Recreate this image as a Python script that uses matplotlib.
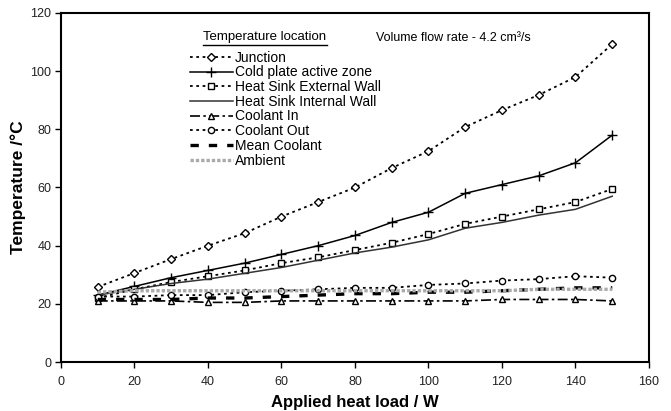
import matplotlib.pyplot as plt
import numpy as np

plt.rcParams['font.family'] = ['Liberation Sans', 'DejaVu Sans']

# dados
heat_load = [10, 20, 30, 40, 50, 60, 70, 80, 90, 100, 110, 120, 130, 140, 150]
junction = [25.8, 30.6, 35.4, 40, 44.3, 50, 55, 60, 66.7, 72.5, 80.8, 86.6, 91.8, 98, 109.3]
cold_plate = [23, 26, 29, 31.5, 34, 37, 40, 43.5, 48, 51.5, 58, 61, 64, 68.5, 78]
hs_external = [22, 25, 27.5, 29.5, 31.5, 34, 36, 38.5, 41, 44, 47.5, 50, 52.5, 55, 59.5]
hs_internal = [23, 25, 27, 28.5, 30.5, 32.5, 35, 37.5, 39.5, 42, 46, 48, 50.5, 52.5, 57]
coolant_in = [21, 21, 21, 20.5, 20.5, 21, 21, 21, 21, 21, 21, 21.5, 21.5, 21.5, 21]
coolant_out = [22.5, 22.5, 23, 23, 24, 24.5, 25, 25.5, 25.5, 26.5, 27, 28, 28.5, 29.5, 29]
mean_coolant = [21.5, 21.5, 21.5, 22, 22, 22.5, 23, 23.5, 23.5, 24, 24, 24.5, 25, 25.5, 25.5]
ambient = [24, 24.5, 24.5, 24.5, 24.5, 24.5, 24.5, 24.5, 24.5, 24.5, 24.5, 24.5, 25, 25, 25]

fig = plt.figure(figsize=(6.71, 4.11), dpi=100)
ax = fig.add_axes([0.0909, 0.1192, 0.8763, 0.8492])

mk = dict(markersize=4.5, markerfacecolor='white', markeredgecolor='black', markeredgewidth=1)

ax.plot(heat_load, junction, color='black', linestyle=(0, (1.5, 2)), lw=1.3, marker='D', label='Junction', **dict(mk, markersize=3.6))
ax.plot(heat_load, cold_plate, color='black', linestyle='-', lw=1.1, marker='+', markersize=7, markeredgewidth=1, label='Cold plate active zone')
ax.plot(heat_load, hs_external, color='black', linestyle=(0, (1.5, 2)), lw=1.3, marker='s', label='Heat Sink External Wall', **mk)
ax.plot(heat_load, hs_internal, color='#333333', linestyle='-', lw=1.1, label='Heat Sink Internal Wall')
ax.plot(heat_load, coolant_in, color='black', linestyle=(0, (6, 2, 1.5, 2)), lw=1.2, marker='^', label='Coolant In', **mk)
ax.plot(heat_load, coolant_out, color='black', linestyle=(0, (1.5, 2)), lw=1.3, marker='o', label='Coolant Out', **mk)
ax.plot(heat_load, mean_coolant, color='black', linestyle=(0, (2.5, 3)), lw=2.4, label='Mean Coolant')
ax.plot(heat_load, ambient, color='#aaaaaa', linestyle=(0, (1, 0.6)), lw=2.4, label='Ambient')

ax.set_xlim(0, 160)
ax.set_ylim(0, 120)
ax.set_xticks(np.arange(0, 161, 20))
ax.set_yticks(np.arange(0, 121, 20))
ax.tick_params(direction='out', length=4, width=1, labelsize=9, colors='black', labelcolor='#222222')
ax.tick_params(axis='x', pad=6)
ax.tick_params(axis='y', pad=3)
for s in ax.spines.values():
    s.set_linewidth(1.5)

ax.set_xlabel('Applied heat load / W', fontsize=12, fontweight='bold', labelpad=5)
ax.set_ylabel('Temperature /°C', fontsize=12.5, fontweight='bold', labelpad=3)

# título da legenda sublinhado
ax.text(0.241, 0.931, 'Temperature location', transform=ax.transAxes, fontsize=9.5, ha='left', va='center')
ax.plot([0.241, 0.452], [0.909, 0.909], transform=ax.transAxes, color='black', lw=1)
ax.text(0.536, 0.928, 'Volume flow rate - 4.2 cm³/s', transform=ax.transAxes, fontsize=9, ha='left', va='center')

ax.legend(loc='upper left', bbox_to_anchor=(0.219, 0.892), frameon=False, fontsize=10,
          handlelength=3.1, handletextpad=0.15, labelspacing=0.05, borderaxespad=0, borderpad=0)

fig.savefig('out.png', dpi=100)
